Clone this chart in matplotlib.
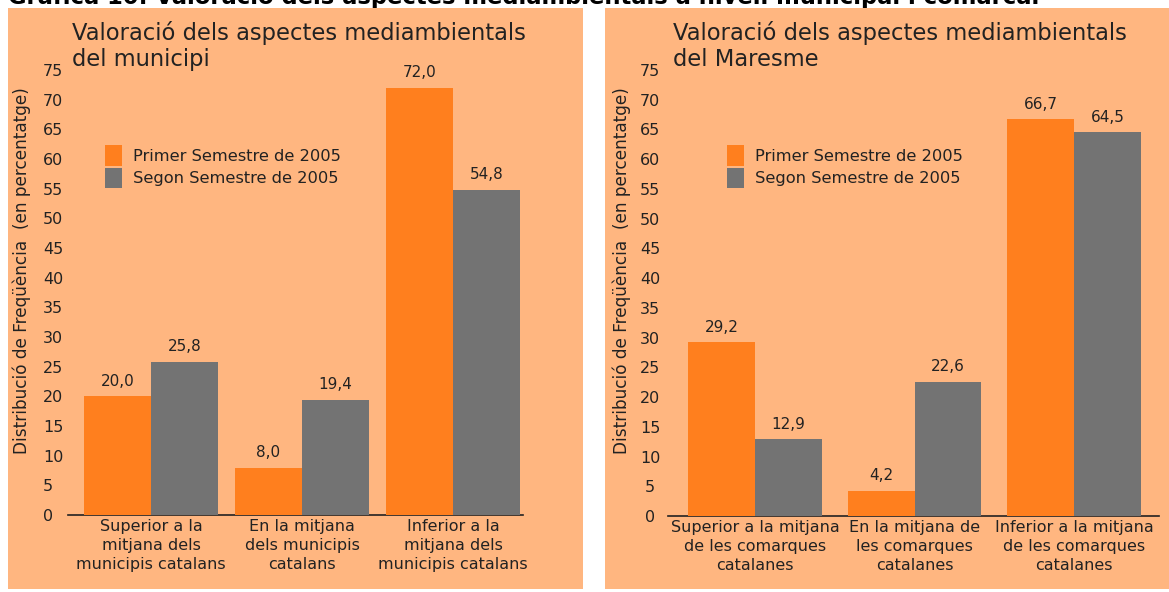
import matplotlib
matplotlib.use("Agg")
import matplotlib.pyplot as plt
from matplotlib.patches import Rectangle

# ---- data ----
left_categories = ["Superior a la\nmitjana dels\nmunicipis catalans",
                   "En la mitjana\ndels municipis\ncatalans",
                   "Inferior a la\nmitjana dels\nmunicipis catalans"]
left_first = [20.0, 8.0, 72.0]
left_second = [25.8, 19.4, 54.8]

right_categories = ["Superior a la mitjana\nde les comarques\ncatalanes",
                    "En la mitjana de\nles comarques\ncatalanes",
                    "Inferior a la mitjana\nde les comarques\ncatalanes"]
right_first = [29.2, 4.2, 66.7]
right_second = [12.9, 22.6, 64.5]

series_names = ["Primer Semestre de 2005", "Segon Semestre de 2005"]
yticks = list(range(0, 80, 5))
left_title = ["Valoració dels aspectes mediambientals", "del municipi"]
right_title = ["Valoració dels aspectes mediambientals", "del Maresme"]
ylabel = "Distribució de Freqüència  (en percentatge)"
main_title = "Gràfica 10: Valoració dels aspectes mediambientals a nivell municipal i comarcal"

# ---- style ----
W, H = 1169, 592
PEACH = "#FFB680"
ORANGE = "#FF7F1E"
GREY = "#737373"
TXT = "#222222"
plt.rcParams["font.family"] = ["DejaVu Sans"]

fig = plt.figure(figsize=(W / 100, H / 100), dpi=100)
fig.patch.set_facecolor("white")


def px_box(x0, y0, x1, y1):
    """pixel box (top-left origin) -> figure fraction [l, b, w, h]"""
    return [x0 / W, 1 - y1 / H, (x1 - x0) / W, (y1 - y0) / H]


# panel backgrounds
for (x0, y0, x1, y1) in [(8, 8, 583, 589), (605, 8, 1169, 589)]:
    l, b, w, h = px_box(x0, y0, x1, y1)
    fig.patches.append(Rectangle((l, b), w, h, transform=fig.transFigure,
                                 facecolor=PEACH, edgecolor="none", zorder=-5))

fig.text(8 / W, 1 - 4 / H, main_title, fontsize=16.3, fontweight="bold",
         color="black", ha="left", va="baseline", zorder=-6)


def panel(ax_px, c0, unit, bw, cats, s1, s2, title, title_px, ylab_px,
          tick_align, tick_pad, leg_px):
    x0, y0, x1, y1 = ax_px
    ax = fig.add_axes(px_box(x0, y0, x1, y1))
    ax.set_facecolor("none")
    xl = (x0 - c0) / unit
    xr = (x1 - c0) / unit
    ax.set_xlim(xl, xr)
    ax.set_ylim(0, 75)
    pos = list(range(len(cats)))
    b1 = ax.bar([p - bw / 2 for p in pos], s1, width=bw, color=ORANGE,
                zorder=3, label=series_names[0])
    b2 = ax.bar([p + bw / 2 for p in pos], s2, width=bw, color=GREY,
                zorder=3, label=series_names[1])
    for bars, vals in ((b1, s1), (b2, s2)):
        for r, v in zip(bars, vals):
            ax.text(r.get_x() + r.get_width() / 2, v + 1.3,
                    f"{v:.1f}".replace(".", ","), ha="center", va="bottom",
                    fontsize=11, color=TXT, zorder=4)
    for s in ["top", "right", "left"]:
        ax.spines[s].set_visible(False)
    ax.spines["bottom"].set_color("#222222")
    ax.spines["bottom"].set_linewidth(1.2)
    ax.spines["bottom"].set_zorder(1)
    ax.set_yticks(yticks)
    ax.set_yticklabels([str(t) for t in yticks], fontsize=11.5, color=TXT)
    ax.tick_params(axis="y", length=0, pad=tick_pad)
    for lab in ax.get_yticklabels():
        lab.set_ha(tick_align)
    ax.set_xticks(pos)
    ax.set_xticklabels(cats, fontsize=11.5, color=TXT, linespacing=1.33)
    ax.tick_params(axis="x", length=0, pad=3)
    for i, line in enumerate(title):
        fig.text(title_px[0] / W, 1 - (title_px[1] + 26 * i) / H, line,
                 fontsize=16.3, color=TXT, ha="left", va="baseline")
    fig.text(ylab_px[0] / W, 1 - ylab_px[1] / H, ylabel, fontsize=12.2,
             color=TXT, rotation=90, ha="center", va="center")
    l, b, w, h = px_box(*leg_px)
    leg = fig.legend(handles=[b1, b2], loc="upper left",
                     bbox_to_anchor=(l, b + h), frameon=False, fontsize=11.7,
                     handlelength=1.05, handleheight=1.6, handletextpad=0.7,
                     labelspacing=0.1, borderaxespad=0, borderpad=0)
    for t in leg.get_texts():
        t.set_color(TXT)
    return ax


panel((68, 70, 523, 515), 151, 151, 0.444, left_categories, left_first,
      left_second, left_title, (72, 40), (22, 271), "left", 18,
      (105, 145, 340, 190))
panel((668, 70, 1159, 516), 755, 159.5, 0.42, right_categories, right_first,
      right_second, right_title, (673, 40), (622, 271), "center", 13,
      (727, 145, 960, 190))

fig.savefig("out.png", dpi=100, facecolor=fig.get_facecolor())
